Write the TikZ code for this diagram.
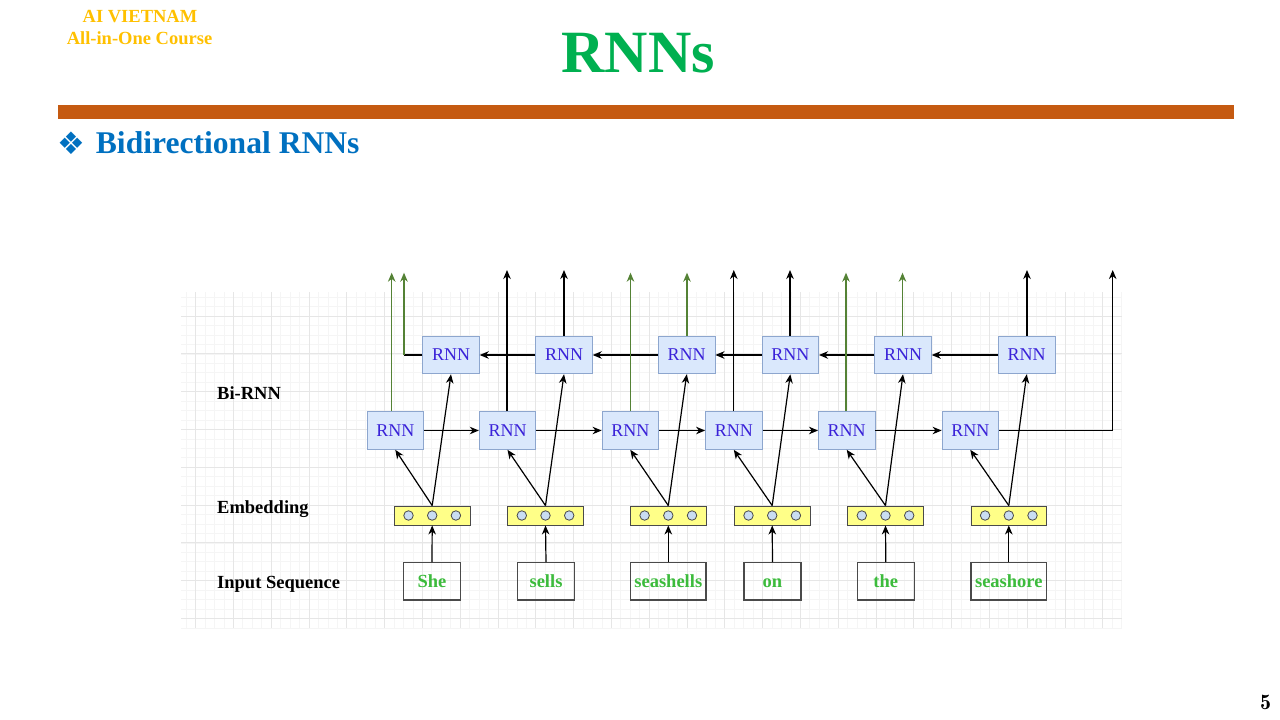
\documentclass[tikz,border=0pt]{standalone}
\usepackage{fontspec}
\setmainfont{Liberation Serif}
\newfontfamily\symfont{DejaVu Sans}
\usetikzlibrary{arrows.meta}

\definecolor{gold}{HTML}{FFC000}
\definecolor{titlegreen}{HTML}{00B050}
\definecolor{barorange}{HTML}{C55A11}
\definecolor{headblue}{HTML}{0070C0}
\definecolor{rnnfill}{HTML}{DAE8FC}
\definecolor{rnnborder}{HTML}{8DA6CE}
\definecolor{rnntext}{HTML}{3A22D8}
\definecolor{embfill}{HTML}{FFFF88}
\definecolor{embborder}{HTML}{4A4A4A}
\definecolor{dotfill}{HTML}{C9DDF2}
\definecolor{wordgreen}{HTML}{3CBB3C}
\definecolor{outgreen}{HTML}{548235}
\definecolor{gridminor}{HTML}{F5F5F5}
\definecolor{gridmajor}{HTML}{E6E6E6}

\tikzset{
  rnnbox/.style={draw=rnnborder, fill=rnnfill, line width=0.9pt,
    minimum width=56.5pt, minimum height=37.7pt, inner sep=0pt,
    font=\fontsize{18}{20}\selectfont, text=rnntext},
  embbox/.style={draw=embborder, fill=embfill, line width=0.9pt,
    minimum width=75.7pt, minimum height=19pt, inner sep=0pt},
  embdot/.style={circle, draw=embborder, fill=dotfill, line width=0.8pt,
    minimum size=9.5pt, inner sep=0pt},
  wordbox/.style={draw=embborder, line width=1.1pt, minimum height=37.3pt,
    inner sep=0pt, text height=13pt, text depth=0pt,
    font=\bfseries\fontsize{18.5}{20}\selectfont, text=wordgreen},
  rowlabel/.style={anchor=base west, inner sep=0pt,
    font=\bfseries\fontsize{18.5}{20}\selectfont},
  link/.style={line width=1.2pt, draw=black,
    -{Stealth[length=9pt,width=7.5pt,inset=2.8pt]}},
  glink/.style={link, draw=outgreen,
    -{Stealth[length=9pt,width=7.5pt,inset=2.8pt,fill=outgreen]}},
  plainline/.style={line width=1.2pt, draw=black}
}

\begin{document}
\begin{tikzpicture}[x=1pt,y=-1pt]
\useasboundingbox (0,0) rectangle (1280,720);

% ---- header ----
\node[anchor=base, inner sep=0pt, text=gold, font=\bfseries\fontsize{18.5}{20}\selectfont]
  (brand) at (140,23) {AI VIETNAM};
\node[anchor=base, inner sep=0pt, text=gold, font=\bfseries\fontsize{18.5}{20}\selectfont]
  (course) at (139.5,44) {All-in-One Course};
\node[anchor=base, inner sep=0pt, text=titlegreen, font=\bfseries\fontsize{60}{64}\selectfont]
  (title) at (638.3,72) {RNNs};
\fill[barorange] (58,105) rectangle (1234,119.3);
\node[inner sep=0pt, text=headblue, font=\symfont\fontsize{31}{33}\selectfont]
  (bullet) at (71,143) {❖};
\node[anchor=base west, inner sep=0pt, text=headblue, font=\bfseries\fontsize{31.6}{34}\selectfont]
  (heading) at (95.7,153) {Bidirectional RNNs};
\node[anchor=base, inner sep=0pt, font=\fontfamily{lmr}\bfseries\fontsize{22}{24}\selectfont]
  (pagenum) at (1265.5,709) {5};

% ---- background grid ----
\begin{scope}
  \clip (181,292) rectangle (1122,628);
  \foreach \k in {-1,...,98}
    \draw[gridminor, line width=0.6pt] ({195.5+9.45*\k},292) -- ++(0,336);
  \foreach \k in {-2,...,33}
    \draw[gridminor, line width=0.6pt] (181,{316+9.45*\k}) -- ++(941,0);
  \foreach \k in {0,...,24}
    \draw[gridmajor, line width=0.7pt] ({195.5+37.8*\k},292) -- ++(0,336);
  \foreach \k in {0,...,8}
    \draw[gridmajor, line width=0.7pt] (181,{316+37.8*\k}) -- ++(941,0);
\end{scope}

% ---- row labels ----
\node[rowlabel] (lbirnn) at (217,399) {Bi-RNN};
\node[rowlabel] (lemb) at (217,513) {Embedding};
\node[rowlabel] (linput) at (217,588) {Input Sequence};

% ---- input words ----
\node[wordbox, minimum width=57.5pt] (w1) at (432,581.3) {She};
\node[wordbox, minimum width=57.5pt] (w2) at (546,581.3) {sells};
\node[wordbox, minimum width=75.3pt] (w3) at (668.3,581.3) {seashells};
\node[wordbox, minimum width=57pt]   (w4) at (772.5,581.3) {on};
\node[wordbox, minimum width=57pt]   (w5) at (885.8,581.3) {the};
\node[wordbox, minimum width=75.7pt] (w6) at (1008.8,581.3) {seashore};

% ---- embeddings ----
\foreach \i/\x in {1/432.2, 2/545.5, 3/668.3, 4/772.2, 5/885.5, 6/1008.8} {
  \node[embbox] (e\i) at (\x,515.5) {};
  \node[embdot] (e\i a) at ({\x-23.7},515.5) {};
  \node[embdot] (e\i b) at (\x,515.5) {};
  \node[embdot] (e\i c) at ({\x+23.7},515.5) {};
}

% ---- forward RNN row ----
\node[rnnbox] (f1) at (395.3,430.5) {RNN};
\node[rnnbox] (f2) at (507.5,430.5) {RNN};
\node[rnnbox] (f3) at (630.3,430.5) {RNN};
\node[rnnbox] (f4) at (733.8,430.5) {RNN};
\node[rnnbox] (f5) at (846.7,430.5) {RNN};
\node[rnnbox] (f6) at (970.3,430.5) {RNN};

% ---- backward RNN row ----
\node[rnnbox] (r1) at (451,355) {RNN};
\node[rnnbox] (r2) at (564,355) {RNN};
\node[rnnbox] (r3) at (686.7,355) {RNN};
\node[rnnbox] (r4) at (790.3,355) {RNN};
\node[rnnbox] (r5) at (903,355) {RNN};
\node[rnnbox] (r6) at (1026.7,355) {RNN};

% ---- output ends ----
\coordinate (o1)  at (391.7,272.7);
\coordinate (o2)  at (404,272.7);
\coordinate (o3)  at (507,270);
\coordinate (o4)  at (564,270);
\coordinate (o5)  at (630.5,272.7);
\coordinate (o6)  at (687,272.7);
\coordinate (o7)  at (733.8,270);
\coordinate (o8)  at (790,270);
\coordinate (o9)  at (846,272.7);
\coordinate (o10) at (902.5,272.7);
\coordinate (o11) at (1027,270);
\coordinate (o12) at (1112.7,270);

% ---- words into embeddings, embeddings into both RNN rows ----
\foreach \i in {1,...,6} {
  \draw[link] (w\i.north) -- (e\i.south);
  \draw[link] (e\i.north) -- (f\i.south);
  \draw[link] (e\i.north) -- (r\i.south);
}

% ---- recurrent connections ----
\foreach \i/\j in {1/2, 2/3, 3/4, 4/5, 5/6} {
  \draw[link] (f\i.east) -- (f\j.west);
  \draw[link] (r\j.west) -- (r\i.east);
}

% ---- outputs ----
\draw[glink] (o1 |- f1.north) -- (o1);
\draw[plainline] (r1.west) -- (o2 |- r1.west);
\draw[glink] (o2 |- r1.west) -- (o2);
\draw[link]  (o3 |- f2.north) -- (o3);
\draw[link]  (o4 |- r2.north) -- (o4);
\draw[glink] (o5 |- f3.north) -- (o5);
\draw[glink] (o6 |- r3.north) -- (o6);
\draw[link]  (o7 |- f4.north) -- (o7);
\draw[link]  (o8 |- r4.north) -- (o8);
\draw[glink] (o9 |- f5.north) -- (o9);
\draw[glink] (o10 |- r5.north) -- (o10);
\draw[link]  (o11 |- r6.north) -- (o11);
\draw[link]  (f6.east) -| (o12);
\end{tikzpicture}
\end{document}
